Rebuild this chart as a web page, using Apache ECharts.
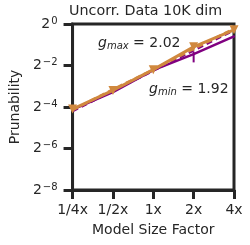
<!DOCTYPE html>
<html><head><meta charset="utf-8">
<script src="https://cdn.jsdelivr.net/npm/echarts@6/dist/echarts.min.js"></script>
<style>html,body{margin:0;padding:0;background:#fff}#c{width:250px;height:245px}</style>
</head><body><div id="c"></div>
<script>
const categories = ['1/4x', '1/2x', '1x', '2x', '4x'];
const yTicks = [-8, -6, -4, -2, 0];
// log2 prunability
const minSeries = [-4.12, -3.28, -2.22, -1.45, -0.60];
const minErrLow = [-4.14, -3.30, -2.25, -1.85, -0.64];
const minErrHigh = [-4.10, -3.26, -2.19, -1.35, -0.56];
const minFit = [-4.20, -3.22, -2.25, -1.27, -0.30];
const maxSeries = [-4.10, -3.20, -2.20, -1.10, -0.28];
const maxFit = [-4.15, -3.15, -2.20, -1.20, -0.22];

const PURPLE = '#800080', ORANGE = '#d0883e', INK = '#262626';
const FONT = 'DejaVu Sans';
const chart = echarts.init(document.getElementById('c'));
const gRich = {
  g: {fontFamily: FONT, fontSize: 14, fontStyle: 'italic', fill: INK, lineHeight: 16},
  sub: {fontFamily: FONT, fontSize: 10, fontStyle: 'italic', fill: INK, lineHeight: 6, verticalAlign: 'bottom'},
  t: {fontFamily: FONT, fontSize: 14, fill: INK, lineHeight: 16}
};
chart.setOption({
  animation: false,
  textStyle: {fontFamily: FONT},
  title: {text: 'Uncorr. Data 10K dim', left: 69, top: 4, padding: 0,
    textStyle: {fontFamily: FONT, fontSize: 14.3, fontWeight: 'normal', color: INK}},
  grid: {left: 66, right: 16, top: 24, bottom: 55, show: true, borderColor: INK, borderWidth: 3, backgroundColor: 'transparent'},
  xAxis: {type: 'category', data: categories, boundaryGap: false,
    name: 'Model Size Factor', nameLocation: 'middle', nameGap: 33,
    nameTextStyle: {fontFamily: FONT, fontSize: 14, color: INK},
    axisLine: {onZero: false, lineStyle: {color: INK, width: 3}},
    axisTick: {alignWithLabel: true, length: 9, lineStyle: {color: INK, width: 3}},
    axisLabel: {fontFamily: FONT, fontSize: 14, color: INK, margin: 13}},
  yAxis: {type: 'value', min: -8, max: 0, interval: 2,
    name: 'Prunability', nameLocation: 'middle', nameGap: 45,
    nameTextStyle: {fontFamily: FONT, fontSize: 14, color: INK},
    axisLine: {show: true, onZero: false, lineStyle: {color: INK, width: 3}},
    axisTick: {show: true, inside: false, length: 9, lineStyle: {color: INK, width: 3}},
    splitLine: {show: false},
    axisLabel: {margin: 15, color: INK,
      formatter: v => '{b|2}{s|' + (v === 0 ? '0' : '\u2212' + Math.abs(v)) + '}',
      rich: {b: {fontFamily: FONT, fontSize: 14, color: INK, lineHeight: 16},
             s: {fontFamily: FONT, fontSize: 10, color: INK, lineHeight: 7, verticalAlign: 'top', padding: [0, 0, 0, 1]}}}},
  series: [
    {type: 'line', data: minFit, symbol: 'none', lineStyle: {color: PURPLE, width: 2.5, type: [6, 4]}, z: 2},
    {type: 'line', data: minSeries, symbol: 'none', lineStyle: {color: PURPLE, width: 2.5}, z: 3},
    {type: 'custom', data: categories.map((c, i) => [i, minErrLow[i], minErrHigh[i]]), z: 3,
      renderItem: (params, api) => {
        const a = api.coord([api.value(0), api.value(1)]);
        const b = api.coord([api.value(0), api.value(2)]);
        return {type: 'line', shape: {x1: a[0], y1: a[1], x2: b[0], y2: b[1]}, style: {stroke: PURPLE, lineWidth: 2}};
      }},
    {type: 'line', data: maxFit, symbol: 'none', lineStyle: {color: ORANGE, width: 2.5, type: [6, 4]}, z: 4},
    {type: 'line', data: maxSeries, symbol: 'triangle', symbolRotate: 180, symbolSize: 9,
      itemStyle: {color: ORANGE}, lineStyle: {color: ORANGE, width: 3}, z: 5}
  ],
  graphic: [
    {type: 'text', left: 98, top: 36, style: {text: '{g|g}{sub|max}{t| = 2.02}', rich: gRich}},
    {type: 'text', left: 149, top: 82, style: {text: '{g|g}{sub|min}{t| = 1.92}', rich: gRich}}
  ]
});
</script></body></html>
